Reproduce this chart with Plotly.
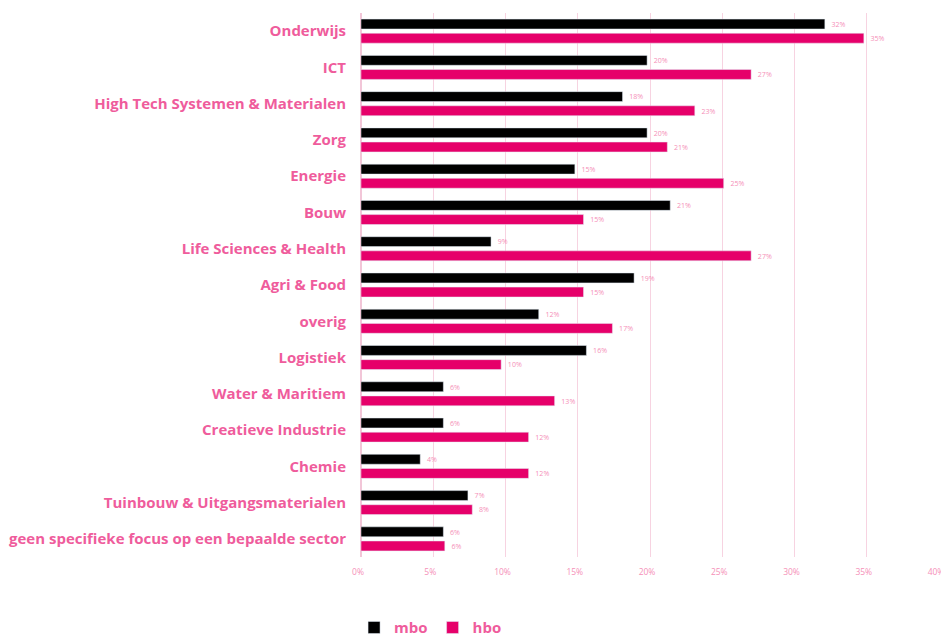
import plotly.graph_objects as go

categories = ["Onderwijs", "ICT", "High Tech Systemen & Materialen", "Zorg", "Energie", "Bouw",
              "Life Sciences & Health", "Agri & Food", "overig", "Logistiek", "Water & Maritiem",
              "Creatieve Industrie", "Chemie", "Tuinbouw & Uitgangsmaterialen",
              "geen specifieke focus op een bepaalde sector"]
mbo = [32.1, 19.8, 18.1, 19.8, 14.8, 21.4, 9.0, 18.9, 12.3, 15.6, 5.7, 5.7, 4.1, 7.4, 5.7]
hbo = [34.8, 27.0, 23.1, 21.2, 25.1, 15.4, 27.0, 15.4, 17.4, 9.7, 13.4, 11.6, 11.6, 7.7, 5.8]

PINK = "#e6006a"
LABEL = "#ef5c9c"
LIGHT = "#f590b8"
FONT = "'Open Sans', sans-serif"

fig = go.Figure()
fig.add_trace(go.Bar(name="mbo", y=categories, x=mbo, orientation="h",
                     marker_color="#000000", text=mbo, texttemplate="  %{x:.0f}%",
                     textposition="outside", textfont=dict(color=LIGHT, size=10, family=FONT),
                     cliponaxis=False))
fig.add_trace(go.Bar(name="hbo", y=categories, x=hbo, orientation="h",
                     marker_color=PINK, text=hbo, texttemplate="  %{x:.0f}%",
                     textposition="outside", textfont=dict(color=LIGHT, size=10, family=FONT),
                     cliponaxis=False))

fig.update_layout(
    width=941, height=629,
    margin=dict(l=353, r=10, t=5, b=80, autoexpand=False),
    paper_bgcolor="white", plot_bgcolor="white",
    barmode="group", bargap=0.22, bargroupgap=0.3,
    font=dict(family=FONT),
    showlegend=True,
    legend=dict(orientation="h", x=-0.012, xanchor="left", y=-0.13, yanchor="middle",
                font=dict(size=15, color=LABEL, family=FONT, weight="bold"),
                itemwidth=30, traceorder="normal"),
    xaxis=dict(range=[0, 40], dtick=5, ticksuffix="%", showgrid=True, automargin=False,
               gridcolor="#f7d3e1", gridwidth=1, zeroline=True, zerolinecolor="#f2c6d8",
               tickfont=dict(size=8.5, color=LIGHT, family=FONT), ticks="", showline=False,
               ticklabelstandoff=8, ticklabelshift=-3),
    yaxis=dict(autorange="reversed", showgrid=False, ticks="", ticklen=0, automargin=False,
               tickfont=dict(size=15, color=LABEL, family=FONT, weight="bold"),
               ticklabelstandoff=14),
)

fig.write_html("out.html")
